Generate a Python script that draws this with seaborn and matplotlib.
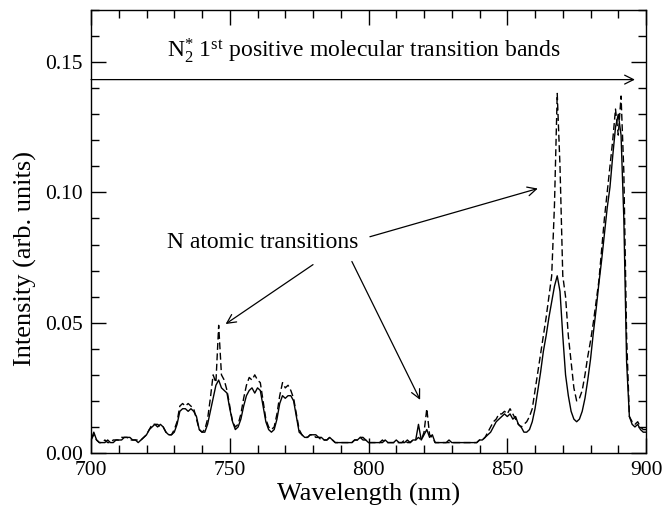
import numpy as np
import pandas as pd
import matplotlib
matplotlib.use("Agg")
import matplotlib.pyplot as plt
import seaborn as sns
from matplotlib.ticker import MultipleLocator, FormatStrFormatter

# Emission spectrum, 700-900 nm in 1 nm steps
wavelength = np.arange(700, 901, 1)

intensity_solid = [
    0.005, 0.008, 0.005, 0.004, 0.004, 0.004, 0.005, 0.004, 0.004, 0.005,  # 700
    0.005, 0.005, 0.006, 0.006, 0.006, 0.005, 0.005, 0.004, 0.005, 0.006,  # 710
    0.007, 0.009, 0.010, 0.011, 0.010, 0.011, 0.010, 0.008, 0.007, 0.007,  # 720
    0.008, 0.011, 0.016, 0.017, 0.017, 0.016, 0.017, 0.016, 0.014, 0.009,  # 730
    0.008, 0.008, 0.011, 0.016, 0.021, 0.026, 0.028, 0.025, 0.024, 0.023,  # 740
    0.017, 0.012, 0.009, 0.010, 0.013, 0.018, 0.022, 0.024, 0.025, 0.023,  # 750
    0.025, 0.024, 0.018, 0.012, 0.009, 0.008, 0.009, 0.013, 0.019, 0.022,  # 760
    0.021, 0.022, 0.022, 0.020, 0.014, 0.008, 0.007, 0.006, 0.006, 0.007,  # 770
    0.007, 0.007, 0.006, 0.006, 0.005, 0.005, 0.006, 0.005, 0.004, 0.004,  # 780
    0.004, 0.004, 0.004, 0.004, 0.004, 0.005, 0.005, 0.006, 0.006, 0.005,  # 790
    0.004, 0.004, 0.004, 0.004, 0.004, 0.004, 0.005, 0.004, 0.004, 0.004,  # 800
    0.005, 0.004, 0.004, 0.004, 0.005, 0.004, 0.005, 0.005, 0.011, 0.005,  # 810
    0.007, 0.009, 0.006, 0.007, 0.004, 0.004, 0.004, 0.004, 0.004, 0.005,  # 820
    0.004, 0.004, 0.004, 0.004, 0.004, 0.004, 0.004, 0.004, 0.004, 0.004,  # 830
    0.005, 0.005, 0.006, 0.007, 0.008, 0.010, 0.012, 0.013, 0.014, 0.015,  # 840
    0.014, 0.015, 0.013, 0.014, 0.011, 0.010, 0.008, 0.008, 0.009, 0.012,  # 850
    0.017, 0.024, 0.031, 0.039, 0.045, 0.052, 0.058, 0.064, 0.068, 0.062,  # 860
    0.045, 0.030, 0.022, 0.016, 0.013, 0.012, 0.013, 0.016, 0.021, 0.028,  # 870
    0.036, 0.046, 0.055, 0.065, 0.074, 0.084, 0.094, 0.102, 0.114, 0.125,  # 880
    0.130, 0.122, 0.090, 0.035, 0.014, 0.011, 0.010, 0.011, 0.009, 0.008,  # 890
    0.008,                                                                 # 900
]

intensity_dashed = [
    0.005, 0.007, 0.005, 0.004, 0.004, 0.005, 0.004, 0.004, 0.005, 0.005,  # 700
    0.005, 0.006, 0.006, 0.006, 0.005, 0.005, 0.005, 0.005, 0.005, 0.006,  # 710
    0.007, 0.009, 0.011, 0.011, 0.011, 0.010, 0.010, 0.008, 0.007, 0.007,  # 720
    0.009, 0.012, 0.018, 0.019, 0.018, 0.019, 0.018, 0.017, 0.013, 0.009,  # 730
    0.008, 0.009, 0.013, 0.021, 0.030, 0.027, 0.049, 0.030, 0.028, 0.024,  # 740
    0.018, 0.012, 0.010, 0.011, 0.015, 0.021, 0.026, 0.029, 0.028, 0.030,  # 750
    0.028, 0.027, 0.020, 0.013, 0.010, 0.009, 0.010, 0.015, 0.022, 0.027,  # 760
    0.025, 0.026, 0.024, 0.021, 0.015, 0.009, 0.007, 0.006, 0.006, 0.007,  # 770
    0.007, 0.006, 0.006, 0.005, 0.005, 0.005, 0.006, 0.005, 0.004, 0.004,  # 780
    0.004, 0.004, 0.004, 0.004, 0.004, 0.005, 0.005, 0.006, 0.005, 0.005,  # 790
    0.004, 0.004, 0.004, 0.004, 0.004, 0.005, 0.004, 0.004, 0.004, 0.004,  # 800
    0.004, 0.004, 0.004, 0.005, 0.004, 0.004, 0.005, 0.005, 0.006, 0.005,  # 810
    0.008, 0.017, 0.007, 0.006, 0.004, 0.004, 0.004, 0.004, 0.004, 0.004,  # 820
    0.004, 0.004, 0.004, 0.004, 0.004, 0.004, 0.004, 0.004, 0.004, 0.004,  # 830
    0.005, 0.005, 0.006, 0.008, 0.010, 0.012, 0.013, 0.015, 0.015, 0.016,  # 840
    0.015, 0.017, 0.015, 0.013, 0.011, 0.010, 0.011, 0.012, 0.014, 0.017,  # 850
    0.024, 0.031, 0.038, 0.045, 0.052, 0.060, 0.068, 0.095, 0.138, 0.110,  # 860
    0.068, 0.060, 0.045, 0.035, 0.025, 0.020, 0.021, 0.024, 0.030, 0.037,  # 870
    0.043, 0.050, 0.058, 0.066, 0.078, 0.090, 0.100, 0.110, 0.120, 0.132,  # 880
    0.122, 0.137, 0.108, 0.045, 0.014, 0.012, 0.011, 0.012, 0.010, 0.009,  # 890
    0.009,                                                                 # 900
]

band_label = r"N$_2^{*}$ 1$^{\mathrm{st}}$ positive molecular transition bands"
atomic_label = "N atomic transitions"
x_label = "Wavelength (nm)"
y_label = "Intensity (arb. units)"

sns.set_theme(style="ticks")
plt.rcParams["font.family"] = ["Liberation Serif", "DejaVu Serif"]
plt.rcParams["mathtext.fontset"] = "custom"
plt.rcParams["mathtext.rm"] = "Liberation Serif"
plt.rcParams["mathtext.it"] = "Liberation Serif:italic"
plt.rcParams["mathtext.bf"] = "Liberation Serif:bold"

df = pd.DataFrame({
    "wavelength": wavelength,
    "solid": intensity_solid,
    "dashed": intensity_dashed,
})

fig = plt.figure(figsize=(6.63, 5.12), dpi=100)
ax = fig.add_axes([0.1373, 0.1152, 0.8371, 0.8652])

sns.lineplot(data=df, x="wavelength", y="solid", ax=ax, color="black",
             lw=1.0, estimator=None)
sns.lineplot(data=df, x="wavelength", y="dashed", ax=ax, color="black",
             lw=1.0, estimator=None, linestyle=(0, (5, 2.5)))

ax.set_xlim(700, 900)
ax.set_ylim(0.0, 0.17)
ax.xaxis.set_major_locator(MultipleLocator(50))
ax.xaxis.set_minor_locator(MultipleLocator(10))
ax.yaxis.set_major_locator(MultipleLocator(0.05))
ax.yaxis.set_minor_locator(MultipleLocator(0.01))
ax.yaxis.set_major_formatter(FormatStrFormatter("%.2f"))

ax.tick_params(which="both", direction="in", top=True, right=True,
               color="black", width=1.0, labelsize=15.5, labelcolor="black")
ax.tick_params(which="major", length=11, pad=6)
ax.tick_params(which="minor", length=6)
for sp in ax.spines.values():
    sp.set_color("black")
    sp.set_linewidth(1.0)

ax.set_xlabel(x_label, fontsize=19, color="black")
ax.set_ylabel(y_label, fontsize=19, color="black")
ax.xaxis.set_label_coords(0.5, -0.068)
ax.yaxis.set_label_coords(-0.097, 0.44)

# band arrow spanning the molecular bands
ax.annotate("", xy=(896, 0.1433), xytext=(700, 0.1433),
            arrowprops=dict(arrowstyle="->", color="black", lw=0.9,
                            mutation_scale=16, shrinkA=0, shrinkB=0))
ax.text(798.5, 0.1521, band_label, ha="center", va="baseline",
        fontsize=17, color="black")

# atomic line annotations
ax.text(762, 0.0785, atomic_label, ha="center", va="baseline",
        fontsize=17, color="black")
arrow_kw = dict(arrowstyle="->", color="black", lw=0.9, mutation_scale=16,
                shrinkA=0, shrinkB=0)
ax.annotate("", xy=(748.5, 0.0495), xytext=(780, 0.0723), arrowprops=arrow_kw)
ax.annotate("", xy=(818.6, 0.0204), xytext=(794, 0.0735), arrowprops=arrow_kw)
ax.annotate("", xy=(861, 0.1015), xytext=(800.5, 0.083), arrowprops=arrow_kw)

fig.savefig("out.png", dpi=100, facecolor="white")
